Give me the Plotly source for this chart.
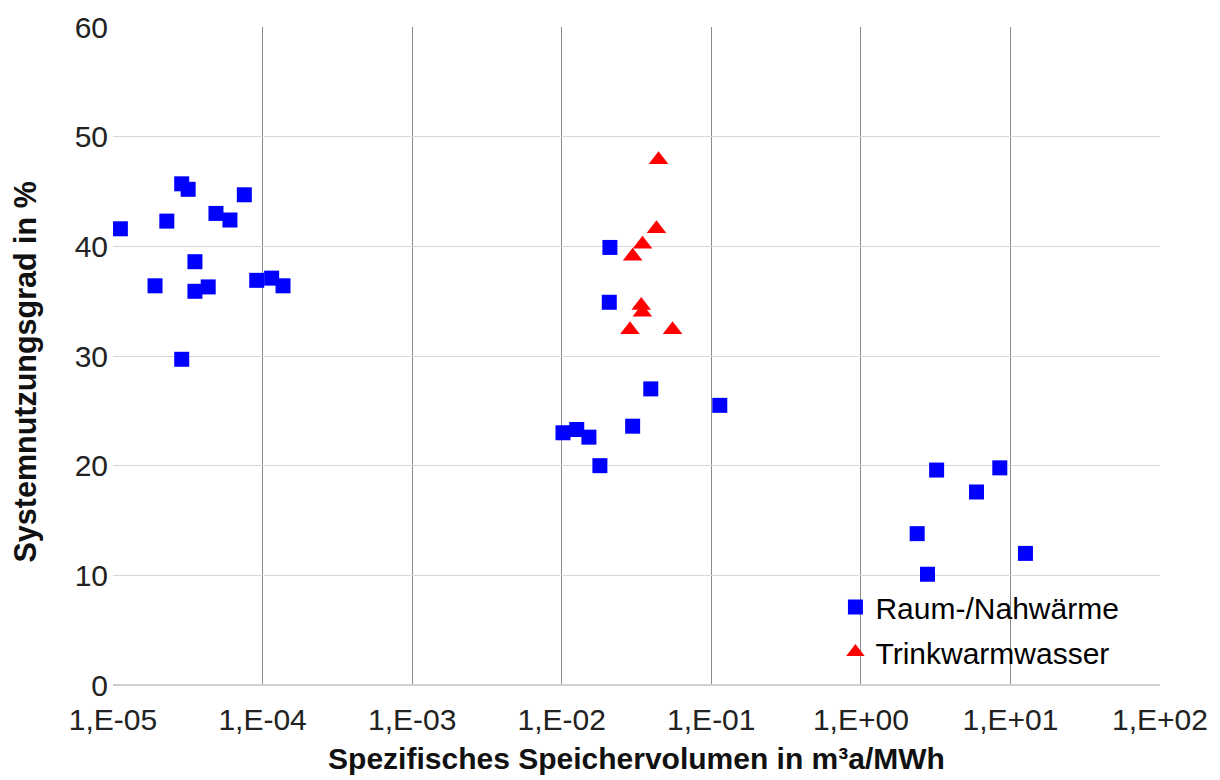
import plotly.graph_objects as go

# Raum-/Nahwärme (blue squares)
raum_x = [1.12e-5, 2.29e-5, 1.91e-5, 2.88e-5, 3.18e-5, 3.53e-5, 3.53e-5, 4.33e-5,
          4.88e-5, 6.05e-5, 7.55e-5, 9.14e-5, 1.15e-4, 1.37e-4, 2.88e-5,
          0.021, 0.0208, 0.0394, 0.114, 0.0298, 0.0102, 0.0126, 0.0152, 0.018,
          3.21, 8.49, 5.93, 2.38, 12.6, 2.79]
raum_y = [41.6, 42.3, 36.4, 45.7, 45.2, 38.6, 35.9, 36.3,
          43.0, 42.4, 44.7, 36.9, 37.1, 36.4, 29.7,
          39.9, 34.9, 27.0, 25.5, 23.6, 23.0, 23.3, 22.6, 20.0,
          19.6, 19.8, 17.6, 13.8, 12.0, 10.1]

# Trinkwarmwasser (red triangles)
tww_x = [0.0444, 0.0430, 0.0347, 0.0298, 0.0340, 0.0346, 0.0286, 0.0551]
tww_y = [47.9, 41.6, 40.2, 39.1, 34.6, 34.0, 32.4, 32.4]

x_tickvals = [1e-5, 1e-4, 1e-3, 1e-2, 1e-1, 1e0, 1e1, 1e2]
x_ticktext = ["1,E-05", "1,E-04", "1,E-03", "1,E-02", "1,E-01", "1,E+00", "1,E+01", "1,E+02"]
y_tickvals = [0, 10, 20, 30, 40, 50, 60]

x_title = "Spezifisches Speichervolumen in m³a/MWh"
y_title = "Systemnutzungsgrad in %"

font_family = "Liberation Sans, Arial, sans-serif"

fig = go.Figure()
fig.add_trace(go.Scatter(
    x=raum_x, y=raum_y, mode="markers", name="Raum-/Nahwärme", legendgroup="a",
    marker=dict(symbol="square", size=15, color="#0000ff", line=dict(width=0)),
))
fig.add_trace(go.Scatter(
    x=tww_x, y=tww_y, mode="markers", name="Trinkwarmwasser", legendgroup="b",
    marker=dict(symbol="triangle-up", size=17, color="#ff0000", line=dict(width=0)),
))

fig.add_annotation(
    text=y_title, xref="paper", yref="paper", x=-0.084, y=0.475,
    xanchor="center", yanchor="middle", textangle=-90, showarrow=False,
    font=dict(size=30.5, family=font_family, color="#111111", weight="bold"),
)

fig.update_layout(
    width=1220, height=780,
    margin=dict(l=105, r=68, t=19, b=103),
    paper_bgcolor="white", plot_bgcolor="white",
    font=dict(family=font_family, color="#000000"),
    showlegend=True,
    legend=dict(
        x=0.690, y=0.158, xanchor="left", yanchor="top",
        bgcolor="rgba(0,0,0,0)",
        font=dict(size=30, family=font_family, color="#000000"),
        itemwidth=30, traceorder="grouped", tracegroupgap=3,
    ),
    xaxis=dict(
        type="log", range=[-5, 2],
        tickvals=x_tickvals, ticktext=x_ticktext,
        tickfont=dict(size=30, family=font_family, color="#222222"),
        showgrid=True, gridcolor="#8a8a8a", gridwidth=1,
        showline=False, zeroline=False, automargin=False,
        ticks="", ticklabelstandoff=14,
        title=dict(text=x_title, font=dict(size=30, family=font_family, color="#111111", weight="bold"), standoff=12),
    ),
    yaxis=dict(
        range=[0, 60],
        tickvals=y_tickvals,
        tickfont=dict(size=30, family=font_family, color="#222222"),
        showgrid=True, gridcolor="#d6d6d6", gridwidth=1,
        showline=False, zeroline=True, zerolinecolor="#cfcfcf", zerolinewidth=2,
        ticks="", ticklabelstandoff=4, ticklabeloverflow="allow", automargin=False,
    ),
)

fig.write_html("out.html")
